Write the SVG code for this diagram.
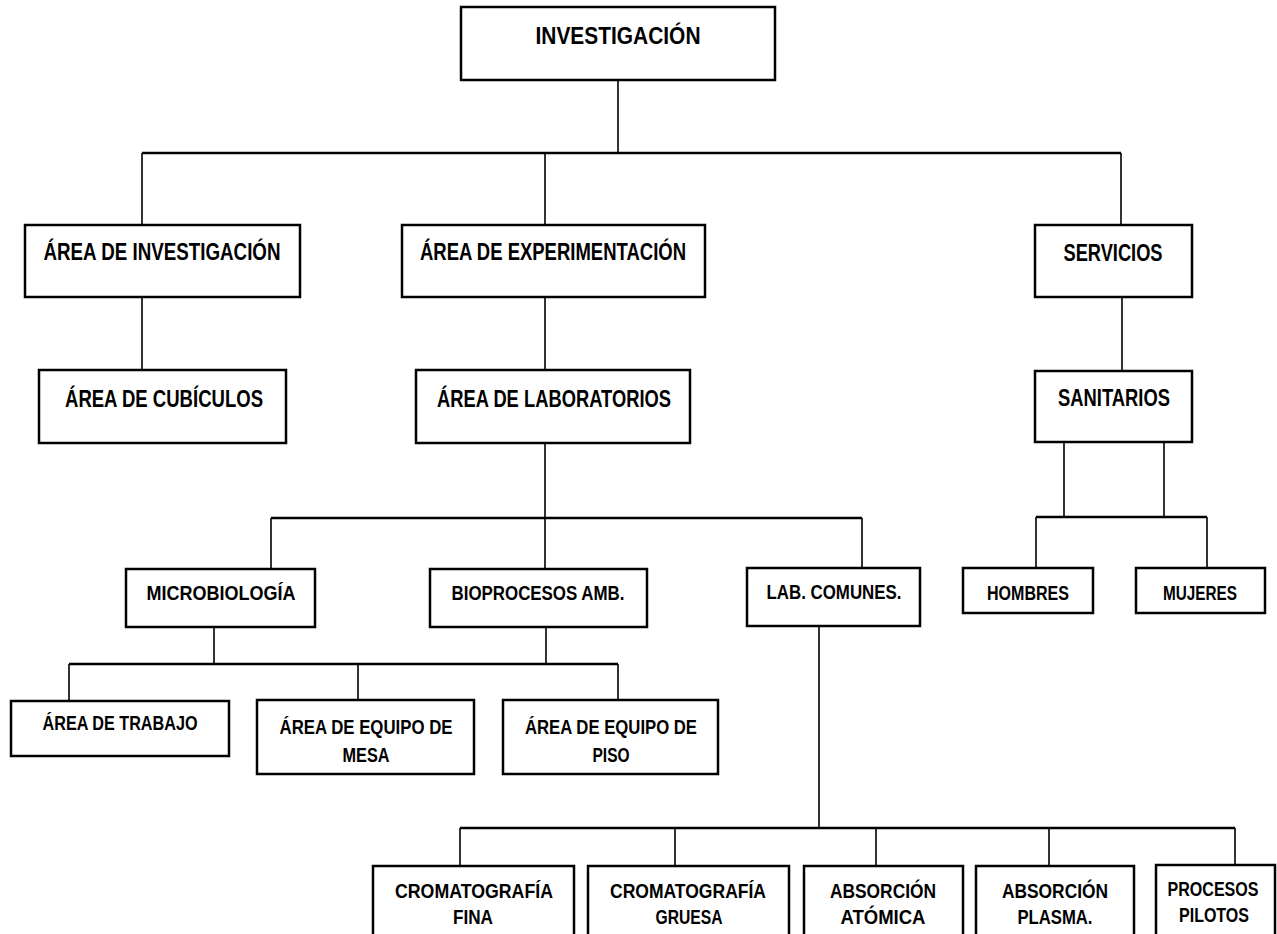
<svg xmlns="http://www.w3.org/2000/svg" width="1277" height="934" viewBox="0 0 1277 934">
<style>
  .box { fill: #ffffff; stroke: #000000; stroke-width: 2.5; }
  .lbl { font-family: "Liberation Sans", Arial, sans-serif; font-weight: bold; font-size: 23px; fill: #000000; text-anchor: middle; }
  .sm { font-size: 21px; }
  .v { stroke: #000000; stroke-width: 1.6; fill: none; }
  .h { stroke: #000000; stroke-width: 2.4; fill: none; }
</style>
<rect x="0" y="0" width="1277" height="934" fill="#ffffff"/>
<g id="connectors">
  <path class="v" d="M618 80V153 M142 153V225 M545 153V225 M1121 153V225"/>
  <path class="h" d="M142 153H1121"/>
  <path class="v" d="M142 297V370 M545 297V370 M1122 297V371"/>
  <path class="v" d="M545 443V518 M271 518V569 M545 518V569 M862 518V568"/>
  <path class="h" d="M271 518H862"/>
  <path class="v" d="M1064 442V517 M1164 442V517 M1036 517V568 M1207 517V568"/>
  <path class="h" d="M1036 517H1207"/>
  <path class="v" d="M214 627V664 M546 627V664 M69 664V701 M358 664V700 M618 664V700"/>
  <path class="h" d="M69 664H618"/>
  <path class="v" d="M819 626V828 M460 828V866 M675 828V866 M876 828V866 M1049 828V866 M1235 828V865"/>
  <path class="h" d="M460 828H1235"/>
</g>
<g id="n-investigacion">
  <rect class="box" x="461" y="7" width="314" height="73"/>
  <text class="lbl" x="618" y="44" textLength="165" lengthAdjust="spacingAndGlyphs">INVESTIGACIÓN</text>
</g>
<g id="n-area-investigacion">
  <rect class="box" x="25" y="225" width="275" height="72"/>
  <text class="lbl" x="162" y="260" textLength="237" lengthAdjust="spacingAndGlyphs">ÁREA DE INVESTIGACIÓN</text>
</g>
<g id="n-area-experimentacion">
  <rect class="box" x="402" y="225" width="303" height="72"/>
  <text class="lbl" x="553" y="260" textLength="266" lengthAdjust="spacingAndGlyphs">ÁREA DE EXPERIMENTACIÓN</text>
</g>
<g id="n-servicios">
  <rect class="box" x="1035" y="225" width="157" height="72"/>
  <text class="lbl" x="1113" y="261" textLength="99" lengthAdjust="spacingAndGlyphs">SERVICIOS</text>
</g>
<g id="n-cubiculos">
  <rect class="box" x="39" y="370" width="247" height="73"/>
  <text class="lbl" x="164" y="407" textLength="198" lengthAdjust="spacingAndGlyphs">ÁREA DE CUBÍCULOS</text>
</g>
<g id="n-laboratorios">
  <rect class="box" x="416" y="370" width="274" height="73"/>
  <text class="lbl" x="554" y="407" textLength="234" lengthAdjust="spacingAndGlyphs">ÁREA DE LABORATORIOS</text>
</g>
<g id="n-sanitarios">
  <rect class="box" x="1035" y="371" width="157" height="71"/>
  <text class="lbl" x="1114" y="406" textLength="112" lengthAdjust="spacingAndGlyphs">SANITARIOS</text>
</g>
<g id="n-microbiologia">
  <rect class="box" x="126" y="569" width="189" height="58"/>
  <text class="lbl sm" x="221" y="600" textLength="149" lengthAdjust="spacingAndGlyphs">MICROBIOLOGÍA</text>
</g>
<g id="n-bioprocesos">
  <rect class="box" x="430" y="569" width="217" height="58"/>
  <text class="lbl sm" x="538" y="600" textLength="173" lengthAdjust="spacingAndGlyphs">BIOPROCESOS AMB.</text>
</g>
<g id="n-lab-comunes">
  <rect class="box" x="747" y="568" width="173" height="58"/>
  <text class="lbl sm" x="834" y="599" textLength="135" lengthAdjust="spacingAndGlyphs">LAB. COMUNES.</text>
</g>
<g id="n-hombres">
  <rect class="box" x="963" y="568" width="130" height="45"/>
  <text class="lbl sm" x="1028" y="600" textLength="82" lengthAdjust="spacingAndGlyphs">HOMBRES</text>
</g>
<g id="n-mujeres">
  <rect class="box" x="1136" y="568" width="129" height="45"/>
  <text class="lbl sm" x="1200" y="600" textLength="74" lengthAdjust="spacingAndGlyphs">MUJERES</text>
</g>
<g id="n-area-trabajo">
  <rect class="box" x="11" y="701" width="218" height="55"/>
  <text class="lbl sm" x="120" y="730" textLength="155" lengthAdjust="spacingAndGlyphs">ÁREA DE TRABAJO</text>
</g>
<g id="n-equipo-mesa">
  <rect class="box" x="257" y="700" width="217" height="74"/>
  <text class="lbl sm" x="366" y="734" textLength="173" lengthAdjust="spacingAndGlyphs">ÁREA DE EQUIPO DE</text>
  <text class="lbl sm" x="366" y="762" textLength="47" lengthAdjust="spacingAndGlyphs">MESA</text>
</g>
<g id="n-equipo-piso">
  <rect class="box" x="503" y="700" width="215" height="74"/>
  <text class="lbl sm" x="611" y="734" textLength="172" lengthAdjust="spacingAndGlyphs">ÁREA DE EQUIPO DE</text>
  <text class="lbl sm" x="611" y="762" textLength="37" lengthAdjust="spacingAndGlyphs">PISO</text>
</g>
<g id="n-crom-fina">
  <rect class="box" x="373" y="866" width="201" height="80"/>
  <text class="lbl sm" x="474" y="898" textLength="158" lengthAdjust="spacingAndGlyphs">CROMATOGRAFÍA</text>
  <text class="lbl sm" x="473" y="924" textLength="40" lengthAdjust="spacingAndGlyphs">FINA</text>
</g>
<g id="n-crom-gruesa">
  <rect class="box" x="588" y="866" width="201" height="80"/>
  <text class="lbl sm" x="688" y="898" textLength="156" lengthAdjust="spacingAndGlyphs">CROMATOGRAFÍA</text>
  <text class="lbl sm" x="689" y="924" textLength="67" lengthAdjust="spacingAndGlyphs">GRUESA</text>
</g>
<g id="n-abs-atomica">
  <rect class="box" x="804" y="866" width="159" height="80"/>
  <text class="lbl sm" x="883" y="898" textLength="106" lengthAdjust="spacingAndGlyphs">ABSORCIÓN</text>
  <text class="lbl sm" x="883" y="924" textLength="85" lengthAdjust="spacingAndGlyphs">ATÓMICA</text>
</g>
<g id="n-abs-plasma">
  <rect class="box" x="976" y="866" width="158" height="80"/>
  <text class="lbl sm" x="1055" y="898" textLength="106" lengthAdjust="spacingAndGlyphs">ABSORCIÓN</text>
  <text class="lbl sm" x="1055" y="924" textLength="75" lengthAdjust="spacingAndGlyphs">PLASMA.</text>
</g>
<g id="n-procesos-pilotos">
  <rect class="box" x="1156" y="865" width="119" height="80"/>
  <text class="lbl sm" x="1213" y="896" textLength="91" lengthAdjust="spacingAndGlyphs">PROCESOS</text>
  <text class="lbl sm" x="1214" y="922" textLength="70" lengthAdjust="spacingAndGlyphs">PILOTOS</text>
</g>
</svg>
